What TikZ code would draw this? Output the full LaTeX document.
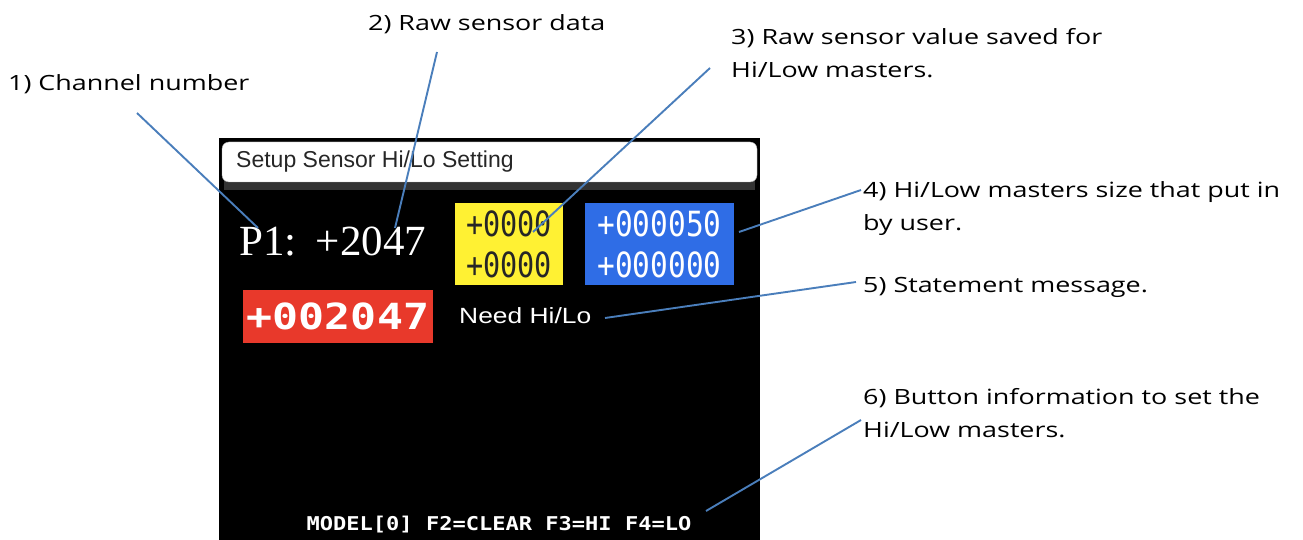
\documentclass[tikz,border=0pt]{standalone}
\usepackage{fontspec}
\setmainfont{Open Sans}
\newfontfamily\lblfont[FakeStretch=1.28]{Open Sans}
\newfontfamily\lcdserif{Liberation Serif}
\newfontfamily\lcdsans{Liberation Sans}
\newfontfamily\lcdwide[FakeStretch=1.2]{Liberation Sans}
\newfontfamily\lcdmono{DejaVu Sans Mono}
\definecolor{leadc}{HTML}{4A7EBB}
\definecolor{lcdyellow}{HTML}{FFF133}
\definecolor{lcdblue}{HTML}{2F6DE6}
\definecolor{lcdred}{HTML}{E8392B}
\tikzset{
  lbl/.style={anchor=north west, inner sep=0pt, align=left, font=\lblfont\fontsize{21}{33}\selectfont},
  leader/.style={draw=leadc, line width=1.9pt},
}
\begin{document}
\begin{tikzpicture}[x=1pt,y=-1pt]
\useasboundingbox (0,0) rectangle (1303,540);
% screen
\fill[black] (219,138) rectangle (760,540);
\fill[black!80] (224,178) rectangle (755,190);
\node[draw=black!30, fill=white, rounded corners=7pt, minimum width=535pt, minimum height=40pt, inner sep=0pt] (hdr) at (489.5,162) {};
\node[anchor=west, inner sep=0pt, font=\lcdsans\fontsize{23}{23}\selectfont, text=black!85] (hdrtxt) at (236,162) {Setup Sensor Hi/Lo Setting};
\node[anchor=west, inner sep=0pt, font=\lcdserif\fontsize{43}{43}\selectfont, text=white] (chan) at (239,242) {P1:\hspace{0.45em}+2047};
\node[fill=lcdyellow, minimum width=108pt, minimum height=82pt, inner sep=0pt] (ybox) at (509,244) {};
\node[align=center, inner sep=0pt, font=\lcdmono\fontsize{31}{41}\selectfont, text=black!85] (ytxt) at (ybox.center) {\scalebox{0.92}[1.12]{+0000}\\\scalebox{0.92}[1.12]{+0000}};
\node[fill=lcdblue, minimum width=149pt, minimum height=82pt, inner sep=0pt] (bbox) at (659.5,244) {};
\node[align=center, inner sep=0pt, font=\lcdmono\fontsize{31}{41}\selectfont, text=white] (btxt) at (bbox.center) {\scalebox{0.95}[1.12]{+000050}\\\scalebox{0.95}[1.12]{+000000}};
\node[fill=lcdred, minimum width=190pt, minimum height=53pt, inner sep=0pt] (rbox) at (338,316.5) {};
\node[inner sep=0pt, font=\lcdmono\bfseries\fontsize{36}{36}\selectfont, text=white] (rtxt) at (rbox.center) {\scalebox{1.2}[1]{+002047}};
\node[anchor=west, inner sep=0pt, font=\lcdwide\fontsize{22}{22}\selectfont, text=white] (need) at (459,316) {Need Hi/Lo};
\node[anchor=center, inner sep=0pt, font=\lcdmono\bfseries\fontsize{19}{19}\selectfont, text=white] (btn) at (499,525) {\scalebox{1.16}[1]{MODEL[0] F2=CLEAR F3=HI F4=LO}};
% labels
\node[lbl] (l1) at (8,74) {1) Channel number};
\node[lbl] (l2) at (368,14) {2) Raw sensor data};
\node[lbl] (l3) at (731,28) {3) Raw sensor value saved for\\Hi/Low masters.};
\node[lbl] (l4) at (863,181) {4) Hi/Low masters size that put in\\by user.};
\node[lbl] (l5) at (863,277) {5) Statement message.};
\node[lbl] (l6) at (863,388) {6) Button information to set the\\Hi/Low masters.};
% leader ends
\coordinate (s1) at (137,113); \coordinate (e1) at (258,228);
\coordinate (s2) at (437,52);  \coordinate (e2) at (395,228);
\coordinate (s3) at (710,68);  \coordinate (e3) at (533,232);
\coordinate (s4) at (861,190); \coordinate (e4) at (739,232);
\coordinate (s5) at (856,282); \coordinate (e5) at (605,318);
\coordinate (s6) at (861,420); \coordinate (e6) at (706,511);
\draw[leader] (s1) -- (e1);
\draw[leader] (s2) -- (e2);
\draw[leader] (s3) -- (e3);
\draw[leader] (s4) -- (e4);
\draw[leader] (s5) -- (e5);
\draw[leader] (s6) -- (e6);
\end{tikzpicture}
\end{document}
